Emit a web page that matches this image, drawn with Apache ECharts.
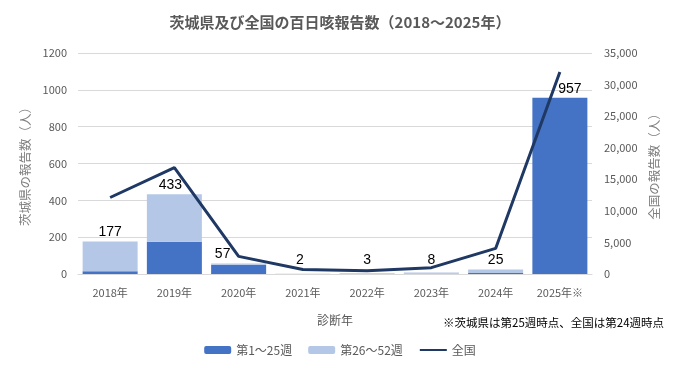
<!DOCTYPE html>
<html>
<head>
<meta charset="utf-8">
<script src="https://cdn.jsdelivr.net/npm/echarts@6/dist/echarts.min.js"></script>
<style>
html,body{margin:0;padding:0;background:#fff;}
#main{width:680px;height:378px;}
</style>
</head>
<body>
<div id="main"></div>
<script>
const categories = ['2018年','2019年','2020年','2021年','2022年','2023年','2024年','2025年※'];
const weeks1to25 = [15, 175, 50, 0, 1, 2, 5, 957];
const weeks26to52 = [162, 258, 7, 2, 2, 6, 20, 0];
const totals = [177, 433, 57, 2, 3, 8, 25, 957];
const national = [12115, 16850, 2794, 702, 499, 1009, 4054, 32000];
const leftTicks = [0, 1200, 200];
const rightTicks = [0, 35000, 5000];

const FONT = '"Noto Sans CJK JP", "Noto Sans", sans-serif';
const chart = echarts.init(document.getElementById('main'), null, {renderer: 'canvas'});

// label nudges (as in the original, to keep labels clear of the line)
const labelOffsets = [[0,0],[-4,0],[-16,0],[-3,-4],[0,-4],[0,-3],[0,0],[10,0]];
const totalData = totals.map((v, i) => ({value: v, label: {offset: labelOffsets[i]}}));

chart.setOption({
  animation: false,
  textStyle: {fontFamily: FONT},
  title: {
    text: '茨城県及び全国の百日咳報告数（2018～2025年）',
    left: 'center',
    top: 10,
    textStyle: {fontSize: 15, fontWeight: 'bold', color: '#595959', fontFamily: FONT}
  },
  grid: {left: 78, right: 88, top: 53, bottom: 104},
  legend: {
    data: [
      {name: '第1～25週'},
      {name: '第26～52週'},
      {name: '全国', itemStyle: {opacity: 0}}
    ],
    bottom: 17,
    left: 'center',
    itemWidth: 27,
    itemHeight: 8,
    itemGap: 16,
    textStyle: {fontSize: 12, color: '#595959', fontFamily: FONT}
  },
  xAxis: {
    type: 'category',
    data: categories,
    name: '診断年',
    nameLocation: 'middle',
    nameGap: 40,
    nameTextStyle: {fontSize: 12, color: '#595959'},
    axisLine: {lineStyle: {color: '#d9d9d9'}},
    axisTick: {show: false},
    axisLabel: {fontSize: 11, color: '#595959', margin: 13}
  },
  yAxis: [
    {
      type: 'value',
      min: leftTicks[0], max: leftTicks[1], interval: leftTicks[2],
      name: '茨城県の報告数（人）',
      nameLocation: 'middle',
      nameRotate: 90,
      nameGap: 41,
      nameTextStyle: {fontSize: 12.5, color: '#7f7f7f'},
      axisLine: {show: false},
      axisTick: {show: false},
      splitLine: {lineStyle: {color: '#d9d9d9'}},
      axisLabel: {fontSize: 11, color: '#595959', margin: 11, formatter: v => String(v)}
    },
    {
      type: 'value',
      min: rightTicks[0], max: rightTicks[1], interval: rightTicks[2],
      name: '全国の報告数（人）',
      nameLocation: 'middle',
      nameRotate: 90,
      nameGap: 55,
      nameTextStyle: {fontSize: 12.5, color: '#7f7f7f'},
      axisLine: {show: false},
      axisTick: {show: false},
      splitLine: {show: false},
      axisLabel: {fontSize: 11, color: '#595959', margin: 12,
        formatter: v => v.toLocaleString('en-US')}
    }
  ],
  series: [
    {
      name: '第1～25週', type: 'bar', stack: 'ibaraki', yAxisIndex: 0,
      data: weeks1to25, barWidth: 55, barGap: '-100%',
      itemStyle: {color: '#4472C4'}
    },
    {
      name: '第26～52週', type: 'bar', stack: 'ibaraki', yAxisIndex: 0,
      data: weeks26to52, barWidth: 55, barGap: '-100%',
      itemStyle: {color: '#B4C7E7'}
    },
    {
      name: '合計', type: 'bar', yAxisIndex: 0,
      data: totalData, barWidth: 55, barGap: '-100%',
      itemStyle: {color: 'rgba(0,0,0,0)'},
      silent: true,
      z: 1,
      label: {show: true, position: 'top', distance: 2, fontSize: 14, color: '#000',
        fontFamily: '"Liberation Sans", "DejaVu Sans", sans-serif'}
    },
    {
      name: '全国', type: 'line', yAxisIndex: 1,
      data: national,
      symbol: 'none', showSymbol: false,
      lineStyle: {color: '#1F3864', width: 3},
      itemStyle: {color: '#1F3864'},
      z: 5
    }
  ],
  graphic: [
    {
      type: 'text',
      left: 443,
      top: 317,
      style: {
        text: '※茨城県は第25週時点、全国は第24週時点',
        fontSize: 11.5,
        fill: '#000',
        fontFamily: FONT
      }
    }
  ]
});
</script>
</body>
</html>
